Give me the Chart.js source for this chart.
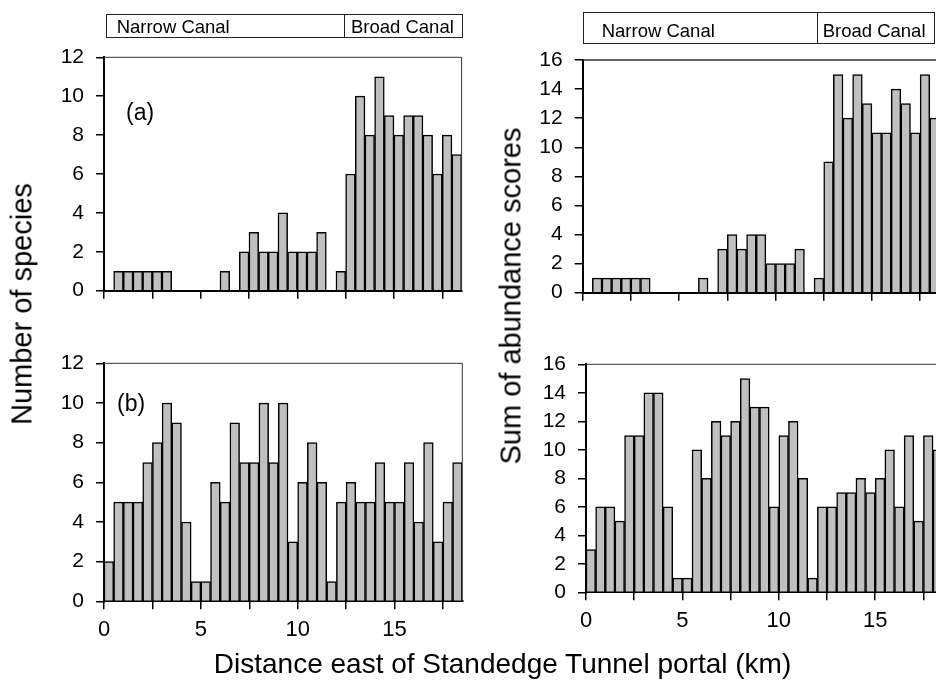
<!DOCTYPE html>
<html>
<head>
<meta charset="utf-8">
<script src="https://cdn.jsdelivr.net/npm/chart.js@4.4.1/dist/chart.umd.min.js"></script>
<style>
html,body{margin:0;padding:0;background:#fff;width:936px;height:689px;overflow:hidden;position:relative;}
canvas{position:absolute;}
.t{position:absolute;font-family:"Liberation Sans",Arial,sans-serif;color:#000;white-space:nowrap;line-height:1;}
</style>
</head>
<body>
<canvas id="cA" width="480" height="330" style="left:0px;top:0px;width:480px;height:330px"></canvas>
<canvas id="cB" width="480" height="359" style="left:0px;top:330px;width:480px;height:359px"></canvas>
<canvas id="cC" width="470" height="330" style="left:480px;top:0px;width:470px;height:330px"></canvas>
<canvas id="cD" width="470" height="359" style="left:480px;top:330px;width:470px;height:359px"></canvas>
<div class="t" style="font-size:29px;left:21.6px;top:304px;transform:translate(-50%,-50%) rotate(-90deg)">Number of species</div>
<div class="t" style="font-size:29px;left:511px;top:296px;transform:translate(-50%,-50%) rotate(-90deg)">Sum of abundance scores</div>
<div class="t" style="font-size:28px;left:502.5px;top:664px;transform:translate(-50%,-50%)">Distance east of Standedge Tunnel portal (km)</div>
<script>
// ---- data ----
const binCentresKm = [0.25,0.75,1.25,1.75,2.25,2.75,3.25,3.75,4.25,4.75,5.25,5.75,6.25,6.75,7.25,7.75,8.25,8.75,9.25,9.75,10.25,10.75,11.25,11.75,12.25,12.75,13.25,13.75,14.25,14.75,15.25,15.75,16.25,16.75,17.25,17.75,18.25];
const speciesA   = [0,1,1,1,1,1,1,0,0,0,0,0,1,0,2,3,2,2,4,2,2,2,3,0,1,6,10,8,11,9,8,9,9,8,6,8,7];
const speciesB   = [2,5,5,5,7,8,10,9,4,1,1,6,5,9,7,7,10,7,10,3,6,8,6,1,5,6,5,5,7,5,5,7,4,8,3,5,7];
const abundanceA = [0,1,1,1,1,1,1,0,0,0,0,0,1,0,3,4,3,4,4,2,2,2,3,0,1,9,15,12,15,13,11,11,14,13,11,15,12];
const abundanceB = [3,6,6,5,11,11,14,14,6,1,1,10,8,12,11,12,15,13,13,6,11,12,8,1,6,6,7,7,8,7,8,10,6,11,5,11,10];
const xTickLabelsKm = [0,5,10,15];
const xTickStepKm = 2.5;
const xMaxKm = 18.5;
const speciesTicks = [0,2,4,6,8,10,12];
const abundanceTicks = [0,2,4,6,8,10,12,14,16];
const canalNames = ['Narrow Canal','Broad Canal'];
const canalSpansLeft  = [[0.1,12.43],[12.43,18.5]];
const canalSpansRight = [[0,12.15],[12.15,18.22]];
const panelLabels = ['(a)','(b)'];

const FONT = '"Liberation Sans", Arial, sans-serif';
Chart.defaults.font.family = FONT;
Chart.defaults.color = '#000';

const decor = {
  id: 'decor',
  afterDraw(chart, args, o) {
    const {ctx, chartArea: a, scales: {x}} = chart;
    ctx.save();
    ctx.strokeStyle = o.frameColor || '#333';
    ctx.lineWidth = o.frameWidth || 1;
    ctx.beginPath();
    ctx.moveTo(a.left, a.top);
    ctx.lineTo(a.right, a.top);
    ctx.lineTo(a.right, a.bottom);
    ctx.stroke();
    if (o.canals) {
      const c = o.canals;
      ctx.lineWidth = 1;
      ctx.strokeStyle = '#222';
      ctx.font = '18.5px ' + FONT;
      ctx.fillStyle = '#000';
      ctx.textBaseline = 'alphabetic';
      ctx.textAlign = 'left';
      c.spans.forEach((s, i) => {
        const x0 = x.getPixelForValue(s[0]);
        const x1 = x.getPixelForValue(s[1]);
        ctx.strokeRect(Math.round(x0) + 0.5, c.top + 0.5, Math.round(x1) - Math.round(x0), c.bottom - c.top);
        ctx.fillText(canalNames[i], x0 + c.pads[i], c.baseline);
      });
    }
    if (o.panel) {
      ctx.font = '23px ' + FONT;
      ctx.fillStyle = '#000';
      ctx.textAlign = 'left';
      ctx.textBaseline = 'alphabetic';
      ctx.fillText(o.panel.text, a.left + o.panel.dx, a.top + o.panel.dy);
    }
    ctx.restore();
  }
};

function makeChart(id, values, cfg) {
  const yt = cfg.yTicks;
  return new Chart(document.getElementById(id), {
    type: 'bar',
    data: {
      datasets: [{
        data: binCentresKm.map((km, i) => ({x: km, y: values[i]})),
        backgroundColor: '#c0c0c0',
        borderColor: '#000',
        borderWidth: 1.5,
        barPercentage: 1,
        categoryPercentage: 1
      }]
    },
    options: {
      responsive: false,
      animation: false,
      devicePixelRatio: 1,
      layout: {padding: cfg.padding},
      plugins: {
        legend: {display: false},
        tooltip: {enabled: false},
        decor: cfg.decor
      },
      scales: {
        x: {
          type: 'linear',
          min: 0,
          max: xMaxKm,
          offset: false,
          ticks: {
            stepSize: xTickStepKm,
            includeBounds: false,
            autoSkip: false,
            maxRotation: 0,
            font: {size: 22},
            color: '#000',
            padding: 7,
            callback: (v) => (cfg.xLabels && xTickLabelsKm.includes(v)) ? String(v) : ''
          },
          grid: {display: true, offset: false, drawOnChartArea: false, drawTicks: true, tickLength: 8, color: '#000', lineWidth: 1.5},
          border: {display: true, color: '#000', width: 2},
          afterFit: (s) => { s.height = cfg.xHeight; }
        },
        y: {
          type: 'linear',
          min: yt[0],
          max: yt[yt.length - 1],
          afterBuildTicks: (s) => { s.ticks = yt.map(v => ({value: v})); },
          ticks: {font: {size: 21}, color: '#000', padding: 12, callback: (v) => String(v)},
          grid: {display: true, drawOnChartArea: false, drawTicks: true, tickLength: 8, color: '#000', lineWidth: 1.5},
          border: {display: true, color: '#000', width: 2},
          afterFit: (s) => { s.width = 64; }
        }
      }
    },
    plugins: [decor]
  });
}

makeChart('cA', speciesA, {
  yTicks: speciesTicks, xLabels: false, xHeight: 20,
  padding: {left: 40, right: 18.4, top: 57.3, bottom: 19.3},
  decor: {frameColor: '#333', frameWidth: 1,
    canals: {spans: canalSpansLeft, top: 14, bottom: 37, baseline: 33.3, pads: [10.7, 6.7]},
    panel: {text: panelLabels[0], dx: 22, dy: 63}}
});
makeChart('cB', speciesB, {
  yTicks: speciesTicks, xLabels: true, xHeight: 40,
  padding: {left: 40, right: 17.7, top: 33.3, bottom: 47.7},
  decor: {frameColor: '#333', frameWidth: 1,
    panel: {text: panelLabels[1], dx: 13, dy: 48}}
});
makeChart('cC', abundanceA, {
  yTicks: abundanceTicks, xLabels: false, xHeight: 20,
  padding: {left: 38.7, right: 10.6, top: 60, bottom: 17.3},
  decor: {frameColor: '#333', frameWidth: 1.5,
    canals: {spans: canalSpansRight, top: 12, bottom: 43, baseline: 36.6, pads: [19, 5.7]}}
});
makeChart('cD', abundanceB, {
  yTicks: abundanceTicks, xLabels: true, xHeight: 40,
  padding: {left: 42, right: 7.3, top: 34.3, bottom: 56.7},
  decor: {frameColor: '#333', frameWidth: 1}
});
</script>
</body>
</html>
